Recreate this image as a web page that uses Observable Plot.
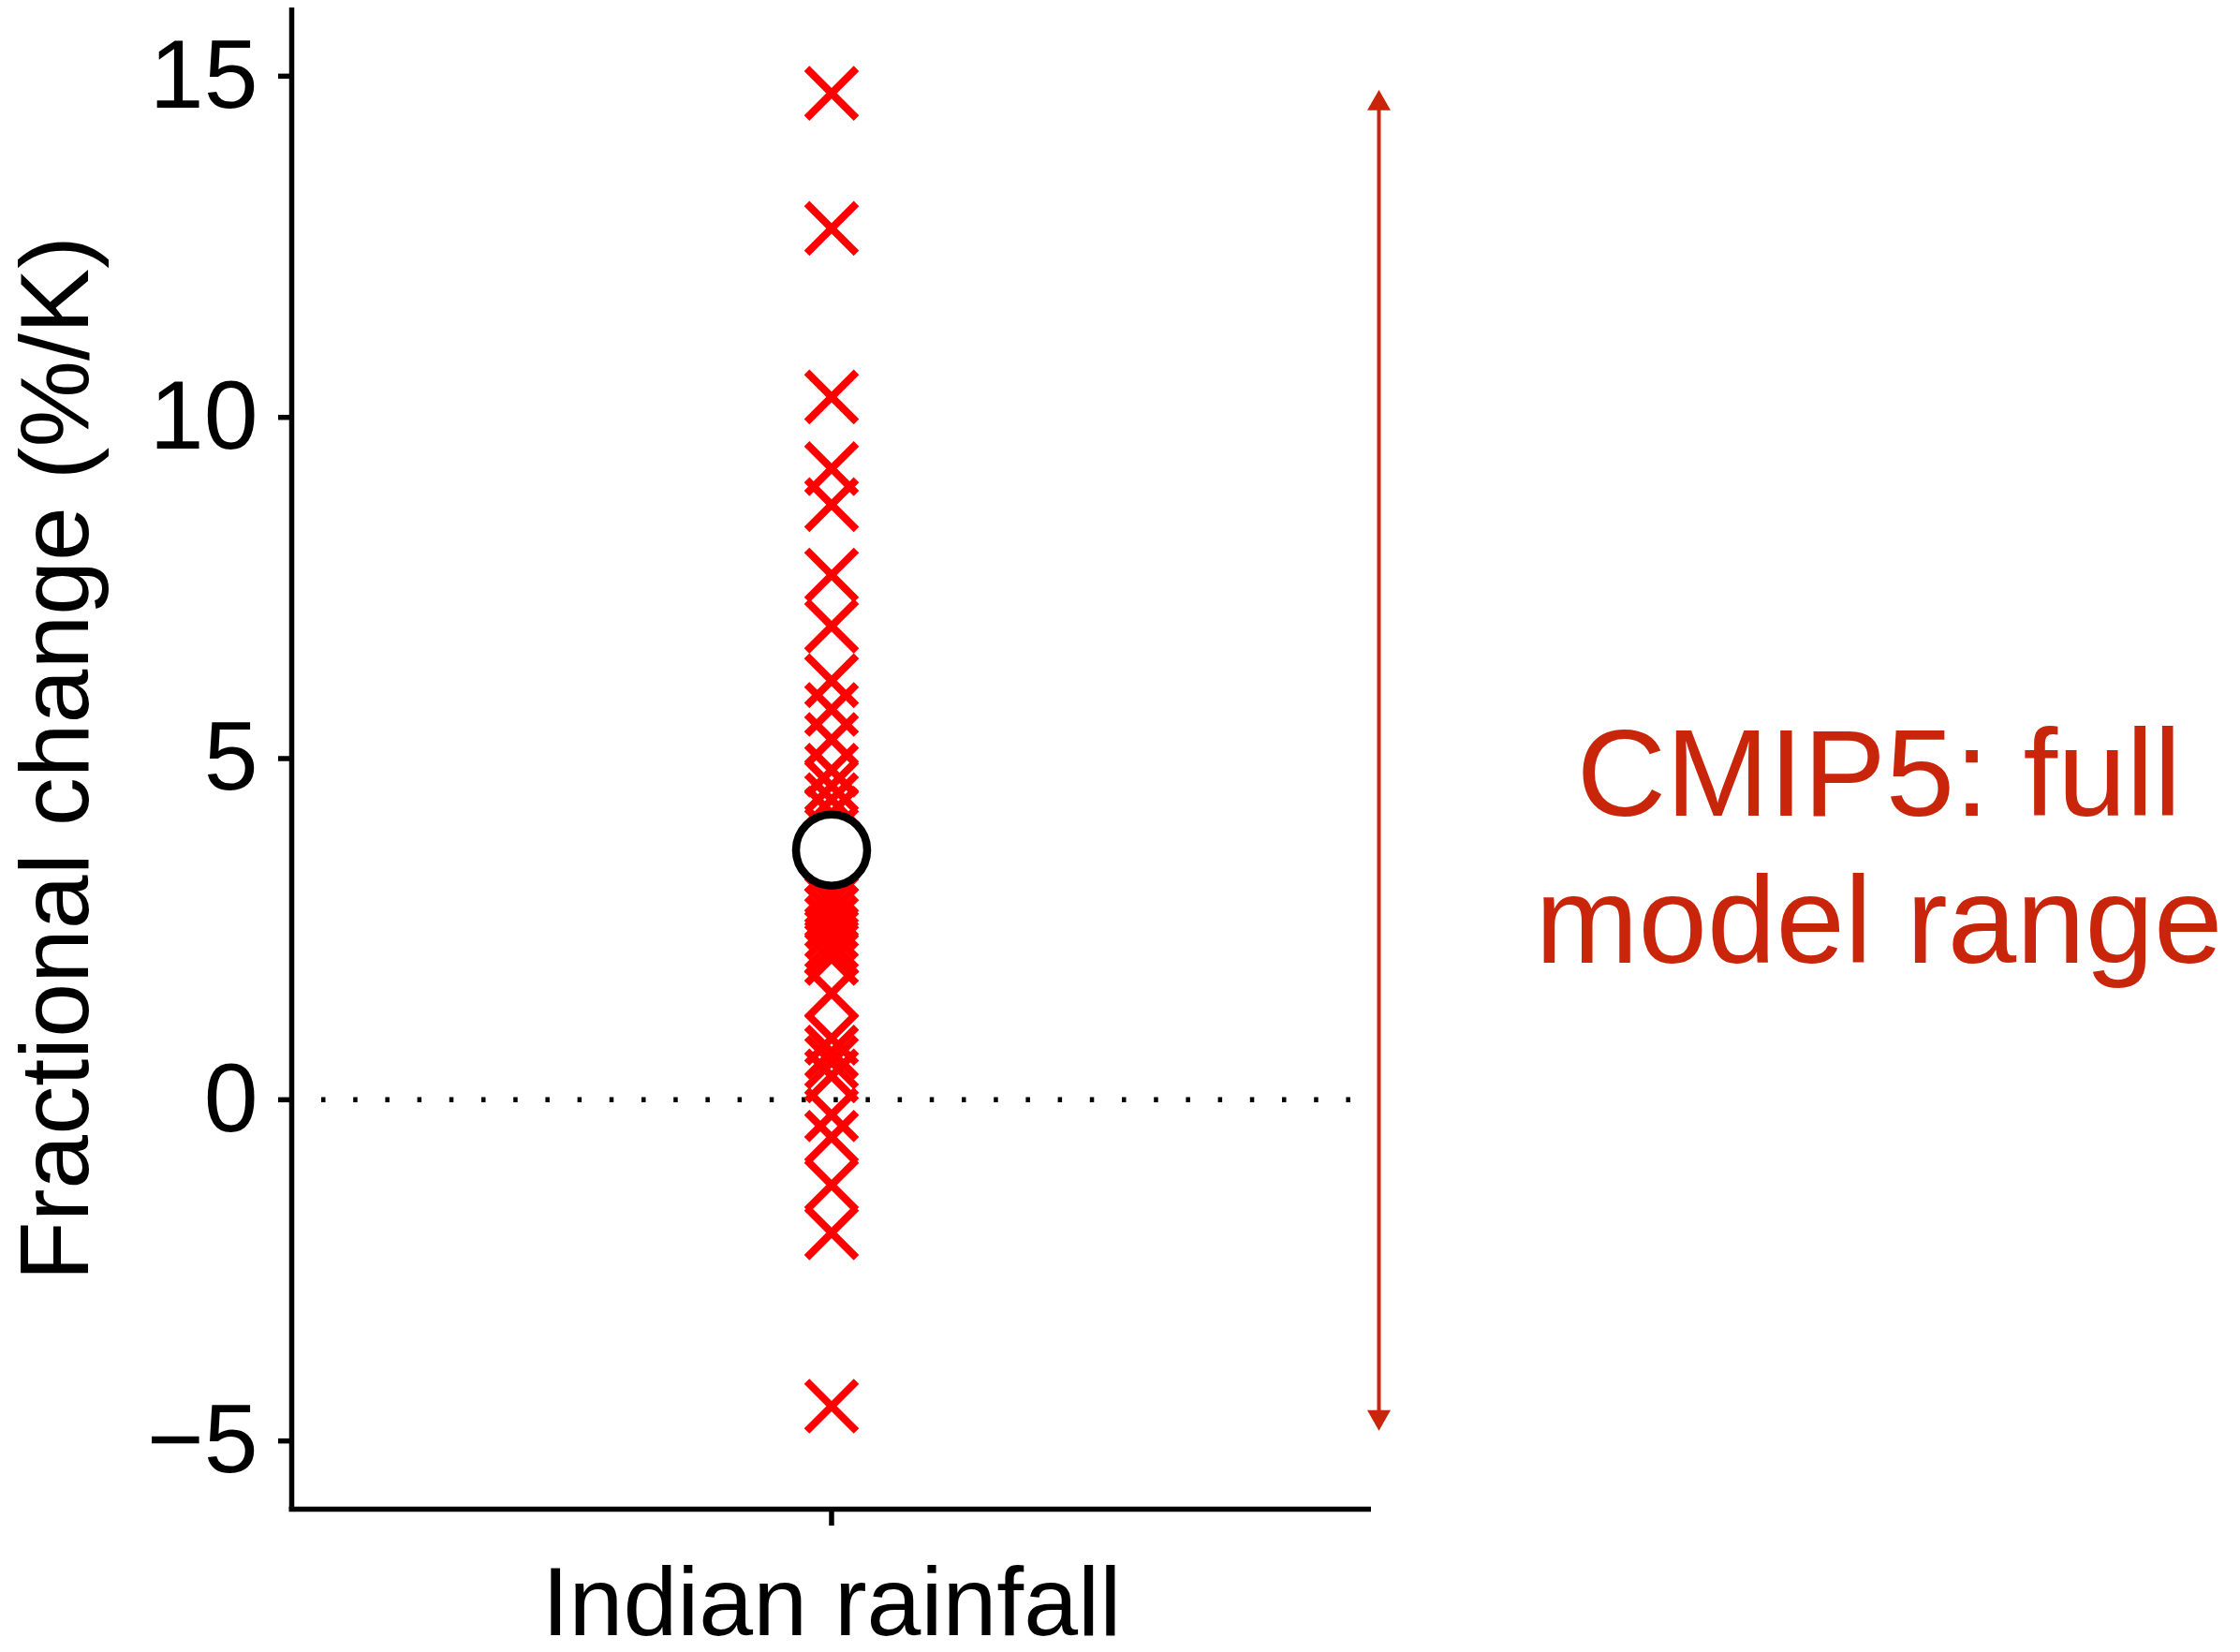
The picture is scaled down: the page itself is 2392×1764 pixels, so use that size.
<!DOCTYPE html>
<html>
<head>
<meta charset="utf-8">
<script src="https://cdn.jsdelivr.net/npm/d3@7"></script>
<script src="https://cdn.jsdelivr.net/npm/@observablehq/plot@0.6"></script>
<style>
  html, body { margin: 0; padding: 0; background: #ffffff; overflow: hidden; }
  #chart svg { display: block; }
</style>
</head>
<body>
<div id="chart"></div>
<script>
// ---- data ----
const categories = ["Indian rainfall"];
const modelValues = [14.75, 12.77, 10.30, 9.25, 8.72, 7.69, 6.94, 6.14, 5.72, 5.28,
  4.83, 4.60, 4.40, 4.20, 3.90, 3.40, 3.05, 2.90, 2.75, 2.60, 2.45, 2.30, 2.20, 2.07,
  1.56, 0.90, 0.70, 0.55, 0.35, -0.22, -0.55, -1.25, -1.95, -4.49];
const ensembleMean = [3.66];
const arrowRange = [-4.85, 14.8];
const yTicks = [-5, 0, 5, 10, 15];
const yDomain = [-6, 16];
const yLabel = "Fractional change (%/K)";
const annotation = "CMIP5: full\nmodel range";

// ---- styling ----
const FONT = "'Liberation Sans', Arial, Helvetica, sans-serif";
const RED = "#ff0000";
const DARKRED = "#c8250a";

const crossSym = {
  draw(ctx, size) {
    const r = Math.sqrt(size / Math.PI);
    ctx.moveTo(-r, -r); ctx.lineTo(r, r);
    ctx.moveTo(-r, r); ctx.lineTo(r, -r);
  }
};
const headUp = {
  draw(ctx, size) {
    const r = Math.sqrt(size / Math.PI);
    ctx.moveTo(0, 0); ctx.lineTo(r, 1.75 * r); ctx.lineTo(-r, 1.75 * r); ctx.closePath();
  }
};
const headDown = {
  draw(ctx, size) {
    const r = Math.sqrt(size / Math.PI);
    ctx.moveTo(0, 0); ctx.lineTo(r, -1.75 * r); ctx.lineTo(-r, -1.75 * r); ctx.closePath();
  }
};

const catPos = (c) => categories.indexOf(c) + 1;
const crosses = modelValues.map(v => ({cat: categories[0], v}));
const means = ensembleMean.map(v => ({cat: categories[0], v}));
const xMax = categories.length + 1;
const arrowData = [{x: xMax, lo: arrowRange[0], hi: arrowRange[1]}];

const chart = Plot.plot({
  width: 2392,
  height: 1764,
  marginTop: 8,
  marginBottom: 153,
  marginLeft: 311,
  marginRight: 928,
  x: {domain: [0, xMax]},
  y: {domain: yDomain},
  style: {fontFamily: FONT, fontSize: "104px", color: "black", background: "white", overflow: "visible"},
  marks: [
    // dotted zero line
    Plot.ruleY([0], {insetLeft: 32, insetRight: 22, stroke: "black", strokeWidth: 5.5, strokeDasharray: "4.5 29.7"}),
    // axis lines
    Plot.ruleX([0], {stroke: "black", strokeWidth: 5.5}),
    Plot.ruleY([yDomain[0]], {stroke: "black", strokeWidth: 5.5, insetLeft: -2.5}),
    Plot.axisY({ticks: yTicks, tickSize: 14, tickPadding: 22, strokeWidth: 5.5, fontSize: 104, label: null}),
    Plot.axisX({ticks: categories.map(catPos), tickFormat: i => categories[i - 1], tickSize: 18, tickPadding: 43, strokeWidth: 5.5, fontSize: 104, label: null}),
    // y label
    Plot.text([yLabel], {frameAnchor: "left", rotate: -90, dx: -251, fontSize: 104, textAnchor: "middle", lineAnchor: "middle", fill: "black"}),
    // model crosses
    Plot.dot(crosses, {x: d => catPos(d.cat), y: "v", symbol: crossSym, r: 26.5, stroke: RED, strokeWidth: 8, fill: "none"}),
    // ensemble mean circle
    Plot.dot(means, {x: d => catPos(d.cat), y: "v", r: 38, stroke: "black", strokeWidth: 8.5, fill: "white"}),
    // range arrow
    Plot.ruleX(arrowData, {x: "x", y1: "hi", y2: "lo", dx: 8, insetTop: 14, insetBottom: 14, stroke: DARKRED, strokeWidth: 4}),
    Plot.dot(arrowData, {x: "x", y: "hi", dx: 8, symbol: headUp, r: 12.5, fill: DARKRED, stroke: "none"}),
    Plot.dot(arrowData, {x: "x", y: "lo", dx: 8, symbol: headDown, r: 12.5, fill: DARKRED, stroke: "none"}),
    // annotation
    Plot.text([annotation], {frameAnchor: "right", dx: 542, dy: 89, fontSize: 132, lineHeight: 1.19, fill: DARKRED, textAnchor: "middle", lineAnchor: "middle"})
  ]
});
document.getElementById("chart").appendChild(chart);
</script>
</body>
</html>
